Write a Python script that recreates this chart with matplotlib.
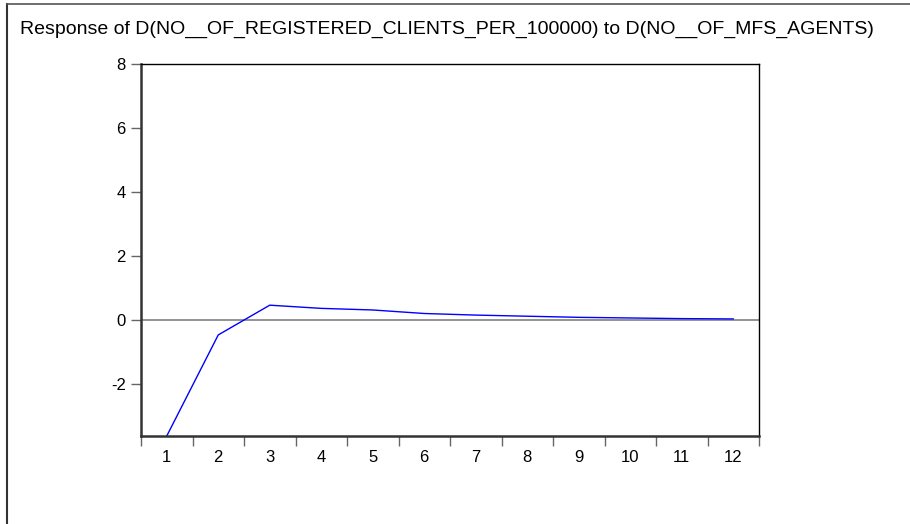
import matplotlib
matplotlib.use("Agg")
import matplotlib.pyplot as plt
from matplotlib.lines import Line2D
from matplotlib import font_manager

# impulse response, periods 1..12
periods = [1, 2, 3, 4, 5, 6, 7, 8, 9, 10, 11, 12]
response = [-3.63, -0.47, 0.46, 0.36, 0.31, 0.20, 0.15, 0.115, 0.08, 0.06, 0.04, 0.03]
y_ticks = [-2, 0, 2, 4, 6, 8]
title = "Response of D(NO__OF_REGISTERED_CLIENTS_PER_100000) to D(NO__OF_MFS_AGENTS)"

names = {f.name for f in font_manager.fontManager.ttflist}
title_font = "Liberation Sans Narrow" if "Liberation Sans Narrow" in names else "Liberation Sans"
plt.rcParams["font.family"] = ["Liberation Sans", "DejaVu Sans"]

W, H = 910, 524
fig = plt.figure(figsize=(W / 100, H / 100), dpi=100)

# outer frame (only left and top visible)
fig.add_artist(Line2D([7 / W, 7 / W], [0, 1 - 4 / H], transform=fig.transFigure, color="#333333", lw=1.5))
fig.add_artist(Line2D([7 / W, 1], [1 - 4 / H, 1 - 4 / H], transform=fig.transFigure, color="#555555", lw=1.2))

fig.text(20 / W, 1 - 29 / H, title, fontsize=14.0, family=[title_font, "DejaVu Sans"],
         va="center", ha="left")

ax = fig.add_axes([141 / W, 1 - 436 / H, (759 - 141) / W, (436 - 64) / H])
ax.plot(periods, response, color="#0000ff", lw=1.0)
ax.axhline(0, color="#808080", lw=1.2, zorder=1)

ax.set_xlim(0.5, 12.5)
ax.set_ylim(-3.63, 8)

ax.set_yticks(y_ticks)
ax.set_yticklabels([str(v) for v in y_ticks])
ax.tick_params(axis="y", direction="out", length=7, width=1, color="#666666", pad=4, labelsize=12)

# category boundaries as major ticks, labels on minor
ax.set_xticks([p - 0.5 for p in periods] + [periods[-1] + 0.5])
ax.set_xticklabels([])
ax.set_xticks(periods, minor=True)
ax.set_xticklabels([str(p) for p in periods], minor=True)
ax.tick_params(axis="x", which="major", direction="out", length=7, width=1, color="#666666")
ax.tick_params(axis="x", which="minor", length=0, pad=10, labelsize=12)

for side in ["left", "bottom"]:
    ax.spines[side].set_color("#333333")
    ax.spines[side].set_linewidth(1.8)
for side in ["top", "right"]:
    ax.spines[side].set_color("black")
    ax.spines[side].set_linewidth(1.0)

fig.savefig("out.png", dpi=100)
